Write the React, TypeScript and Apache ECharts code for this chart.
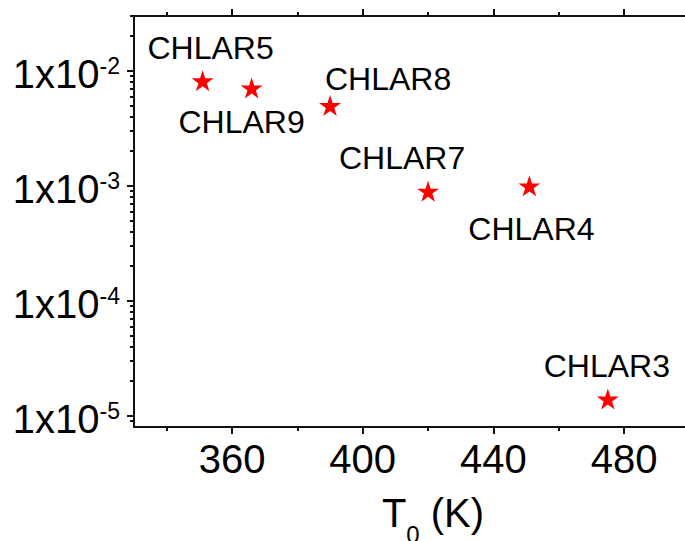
import React, { useEffect, useRef } from 'react';
import * as echarts from 'echarts';

// ---- data ----
const sampleNames = ['CHLAR5', 'CHLAR9', 'CHLAR8', 'CHLAR7', 'CHLAR4', 'CHLAR3'];
const t0Values = [351, 366, 390, 420, 451, 475];
const rateValues = [8.2e-3, 7.1e-3, 5.0e-3, 9.0e-4, 1.0e-3, 1.4e-5];
const xMajorTicks = [360, 400, 440, 480];
const xMinorTicks = [340, 380, 420, 460, 500];
const yMajorTicks = [1e-5, 1e-4, 1e-3, 1e-2];
const yMinorMultipliers = [2, 3, 4, 5, 6, 7, 8, 9];
const yDecades = [1e-6, 1e-5, 1e-4, 1e-3, 1e-2];

// ---- layout / style ----
const X_MIN = 330;
const X_MAX = 513;
const Y_MIN = 8e-6;
const Y_MAX = 0.03;
const labelOffsets = [
  [8, -33],
  [-10, 34],
  [58, -26],
  [-26, -33],
  [2, 43],
  [-1, -33],
];
const FONT = '"Liberation Sans", Arial, Helvetica, sans-serif';
const INK = '#111111';
const STAR =
  'path://M100,0 L122.45,69.1 L195.1,69.1 L136.3,111.8 L158.8,180.9 L100,138.2 L41.2,180.9 L63.7,111.8 L4.9,69.1 L77.55,69.1 Z';

const yMinorTicks: number[] = [];
yDecades.forEach((d) => {
  yMinorMultipliers.forEach((m) => {
    const v = Number((m * d).toPrecision(6));
    if (v > Y_MIN && v < Y_MAX * 1.0001) yMinorTicks.push(v);
  });
});

const lineStyle = { color: INK, width: 2 };

function xAxisCfg(position: 'top' | 'bottom', ticks: number[], len: number, showLine: boolean, showLabel: boolean) {
  return {
    type: 'value',
    position,
    min: X_MIN,
    max: X_MAX,
    axisLine: { show: showLine, onZero: false, lineStyle },
    axisTick: { show: true, inside: false, length: len, lineStyle, customValues: ticks },
    axisLabel: showLabel
      ? {
          show: true,
          customValues: xMajorTicks,
          fontSize: 40,
          fontFamily: FONT,
          color: '#000',
          margin: 12,
        }
      : { show: false },
    splitLine: { show: false },
    minorTick: { show: false },
    minorSplitLine: { show: false },
  };
}

export default function App() {
  const ref = useRef<HTMLDivElement>(null);
  useEffect(() => {
    if (!ref.current) return;
    const chart = echarts.init(ref.current, null, { renderer: 'svg' });
    const bottomAxis: any = xAxisCfg('bottom', xMajorTicks, 7, true, true);
    bottomAxis.name = '{a|T}{b|0}{a| (K)}';
    bottomAxis.nameLocation = 'middle';
    bottomAxis.nameGap = 66;
    bottomAxis.nameTextStyle = {
      fontFamily: FONT,
      color: '#000',
      rich: {
        a: { fontSize: 40, lineHeight: 40, verticalAlign: 'top', fontFamily: FONT, color: '#000' },
        b: { fontSize: 24, lineHeight: 82, fontFamily: FONT, color: '#000' },
      },
    };
    chart.setOption({
      animation: false,
      backgroundColor: '#ffffff',
      grid: {
        left: 134,
        top: 16,
        bottom: 114,
        right: -47,
        containLabel: false,
        outerBoundsMode: 'none',
      },
      xAxis: [
        bottomAxis,
        xAxisCfg('bottom', xMinorTicks, 4, false, false),
        xAxisCfg('top', xMajorTicks, 7, true, false),
        xAxisCfg('top', xMinorTicks, 4, false, false),
      ],
      yAxis: [
        {
          type: 'log',
          logBase: 10,
          position: 'left',
          min: Y_MIN,
          max: Y_MAX,
          axisLine: { show: true, onZero: false, lineStyle },
          axisTick: { show: true, inside: false, length: 7, lineStyle, customValues: yMajorTicks },
          axisLabel: {
            show: true,
            customValues: yMajorTicks,
            margin: 14,
            padding: [6, 0, 0, 0],
            formatter: (v: number) => `{a|1x10}{b|${Math.round(Math.log10(v))}}`,
            rich: {
              a: { fontSize: 40, lineHeight: 39, fontFamily: FONT, color: '#000' },
              b: { fontSize: 23, lineHeight: 18, verticalAlign: 'top', fontFamily: FONT, color: '#000' },
            },
          },
          splitLine: { show: false },
          minorTick: { show: false },
          minorSplitLine: { show: false },
        },
        {
          type: 'log',
          logBase: 10,
          position: 'left',
          min: Y_MIN,
          max: Y_MAX,
          axisLine: { show: false, onZero: false },
          axisTick: { show: true, inside: false, length: 4, lineStyle, customValues: yMinorTicks },
          axisLabel: { show: false },
          splitLine: { show: false },
          minorTick: { show: false },
          minorSplitLine: { show: false },
        },
      ],
      series: [
        {
          type: 'scatter',
          xAxisIndex: 0,
          yAxisIndex: 0,
          symbol: STAR,
          symbolSize: [22, 21],
          itemStyle: { color: '#ff0000', opacity: 1 },
          label: {
            show: true,
            position: 'inside',
            formatter: (p: any) => p.name,
            fontSize: 32,
            fontFamily: FONT,
            color: '#000',
            opacity: 1,
            textBorderWidth: 0,
          },
          data: t0Values.map((t, i) => ({
            name: sampleNames[i],
            value: [t, rateValues[i]],
            label: { offset: labelOffsets[i] },
          })),
        },
      ],
    });
    return () => chart.dispose();
  }, []);
  return (
    <div
      ref={ref}
      style={{ position: 'fixed', left: 0, top: 0, width: 685, height: 541, background: '#fff' }}
    />
  );
}
